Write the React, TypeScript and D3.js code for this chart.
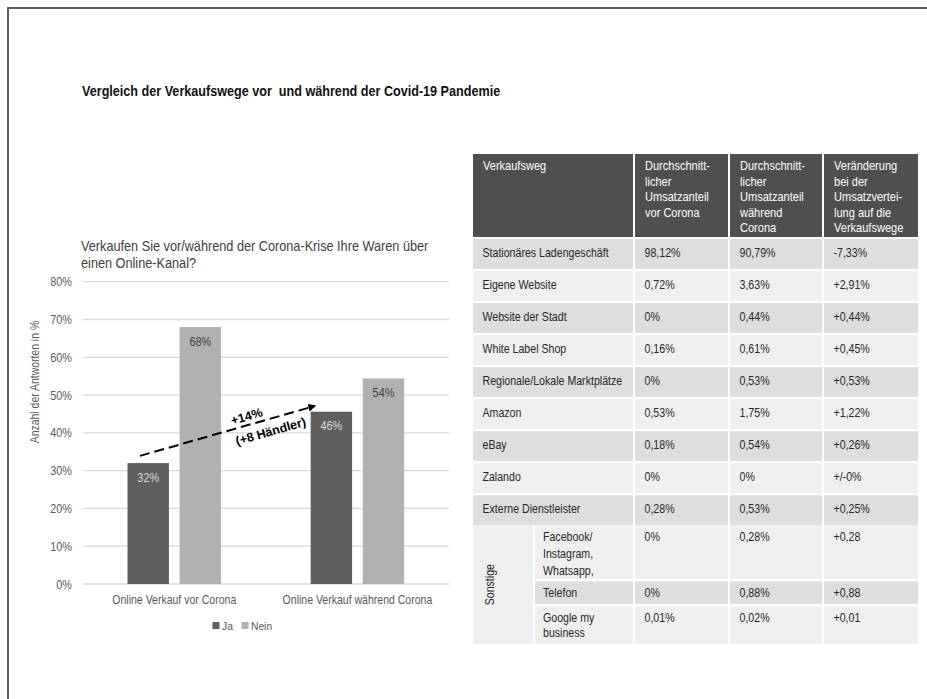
import React from "react";
import * as d3 from "d3";

// ---------- Data ----------
const categories = ["Online Verkauf vor Corona", "Online Verkauf während Corona"];
const seriesNames = ["Ja", "Nein"];
const jaValues = [32, 45.6];
const neinValues = [68, 54.4];
const yTicks = [0, 10, 20, 30, 40, 50, 60, 70, 80];

const tableHeader = [
  "Verkaufsweg",
  "Durchschnitt-\nlicher\nUmsatzanteil\nvor Corona",
  "Durchschnitt-\nlicher\nUmsatzanteil\nwährend\nCorona",
  "Veränderung\nbei der\nUmsatzvertei-\nlung auf die\nVerkaufswege",
];
const channels = [
  "Stationäres Ladengeschäft",
  "Eigene Website",
  "Website der Stadt",
  "White Label Shop",
  "Regionale/Lokale Marktplätze",
  "Amazon",
  "eBay",
  "Zalando",
  "Externe Dienstleister",
];
const shareBefore = ["98,12%", "0,72%", "0%", "0,16%", "0%", "0,53%", "0,18%", "0%", "0,28%"];
const shareDuring = ["90,79%", "3,63%", "0,44%", "0,61%", "0,53%", "1,75%", "0,54%", "0%", "0,53%"];
const shareChange = ["-7,33%", "+2,91%", "+0,44%", "+0,45%", "+0,53%", "+1,22%", "+0,26%", "+/-0%", "+0,25%"];
const otherGroup = "Sonstige";
const otherChannels = ["Facebook/\nInstagram,\nWhatsapp,", "Telefon", "Google my\nbusiness"];
const otherBefore = ["0%", "0%", "0,01%"];
const otherDuring = ["0,28%", "0,88%", "0,02%"];
const otherChange = ["+0,28", "+0,88", "+0,01"];
const otherRowHeights = [54, 23, 38];
const otherLineHeights = [17, 16, 15];

const pageTitle = "Vergleich der Verkaufswege vor  und während der Covid-19 Pandemie";
const chartTitle = ["Verkaufen Sie vor/während der Corona-Krise Ihre Waren über", "einen Online-Kanal?"];
const yAxisTitle = "Anzahl der Antworten in %";
const annotation = ["+14%", "(+8 Händler)"];

// ---------- Styles ----------
const SANS = "'Liberation Sans', Arial, sans-serif";
const SX = 0.87; // horizontal condensing of the narrow font
const COL_JA = "#5f5f5f";
const COL_NEIN = "#b1b1b1";
const TXT = "#595959";

type TProps = {
  x: number; y: number; size: number; fill?: string; anchor?: string; weight?: string;
  rot?: number; sx?: number; children: React.ReactNode;
};
const T = ({ x, y, size, fill = "#262626", anchor = "start", weight = "normal", rot = 0, sx = SX, children }: TProps) => (
  <text
    transform={`translate(${x},${y})${rot ? ` rotate(${rot})` : ""} scale(${sx},1)`}
    textAnchor={anchor}
    fontFamily={SANS}
    fontSize={size}
    fontWeight={weight}
    fill={fill}
    style={{ whiteSpace: "pre" }}
  >
    {children}
  </text>
);

export default function App() {
  const W = 927, H = 699;

  // chart scales
  const x0 = d3.scaleBand<string>().domain(categories).range([82.7, 449]);
  const x1 = d3.scaleBand<string>().domain(seriesNames).range([0, x0.bandwidth()]).paddingInner(0.205).paddingOuter(0.86);
  const y = d3.scaleLinear().domain([0, 80]).range([584, 281.7]);
  const seriesVals: Record<string, number[]> = { Ja: jaValues, Nein: neinValues };
  const seriesCol: Record<string, string> = { Ja: COL_JA, Nein: COL_NEIN };
  const labelCol: Record<string, string> = { Ja: "#dadada", Nein: "#404040" };

  // annotation arrow geometry from scales
  const ax1 = (x0(categories[0]) as number) + (x1("Ja") as number) + x1.bandwidth() * 0.3;
  const ay1 = y(jaValues[0] + 1.9);
  const ax2 = (x0(categories[1]) as number) + (x1("Ja") as number) + 4;
  const ay2 = y(jaValues[1] + 1.5);
  const ang = (Math.atan2(ay2 - ay1, ax2 - ax1) * 180) / Math.PI;
  const mx = (ax1 + ax2) / 2, my = (ay1 + ay2) / 2;

  // table geometry
  const colX = [473, 635, 730, 824];
  const colW = [160, 93, 92, 94];
  const headerTop = 154, headerH = 83;
  const rowY = d3.scaleBand<string>().domain(channels).range([239, 239 + channels.length * 31.8]).paddingInner(2 / 31.8);
  const otherStart = 239 + channels.length * 31.8;
  const otherTops: number[] = [];
  let acc = otherStart;
  otherRowHeights.forEach((h) => { otherTops.push(acc); acc += h + 2; });
  const otherEnd = acc - 2;
  const fillA = "#dedede", fillB = "#efefef";

  return (
    <svg width={W} height={H} style={{ position: "absolute", left: 0, top: 0, background: "#fff" }}>
      <rect x={0} y={0} width={W} height={H} fill="#fff" />
      {/* page frame */}
      <path d={`M8,${H + 2} V8 H${W + 2}`} fill="none" stroke="#5c5c5c" strokeWidth={2} />

      {/* page title */}
      <T x={82} y={96} size={14.5} weight="bold" fill="#111">{pageTitle}</T>

      {/* chart title */}
      {chartTitle.map((t, i) => (
        <T key={i} x={81} y={251 + i * 16.5} size={14.6} fill="#404040">{t}</T>
      ))}

      {/* gridlines + ticks */}
      {yTicks.map((t) => (
        <g key={t}>
          <line x1={82.7} x2={449} y1={y(t)} y2={y(t)} stroke="#d9d9d9" strokeWidth={1.3} />
          <T x={72} y={y(t) + 4.5} anchor="end" size={12.5} fill={TXT}>{t}%</T>
        </g>
      ))}

      {/* y axis title */}
      <T x={38.5} y={382} rot={-90} anchor="middle" size={12} fill={TXT}>{yAxisTitle}</T>

      {/* bars */}
      {categories.map((c, ci) => (
        <g key={c} transform={`translate(${x0(c)},0)`}>
          {seriesNames.map((s) => {
            const v = seriesVals[s][ci];
            const bx = x1(s) as number;
            return (
              <g key={s}>
                <rect x={bx} y={y(v)} width={x1.bandwidth()} height={y(0) - y(v)} fill={seriesCol[s]} />
                <T x={bx + x1.bandwidth() / 2} y={y(v) + 18.5} anchor="middle" size={12.5} fill={labelCol[s]}>
                  {Math.round(v)}%
                </T>
              </g>
            );
          })}
          <T x={x0.bandwidth() / 2} y={604} anchor="middle" size={12.1} fill={TXT}>{c}</T>
        </g>
      ))}

      {/* legend */}
      <g>
        <rect x={212.5} y={622} width={7} height={7} fill={COL_JA} />
        <T x={222} y={630} size={11.8} fill={TXT}>{seriesNames[0]}</T>
        <rect x={241.5} y={622} width={7} height={7} fill={COL_NEIN} />
        <T x={251} y={630} size={11.8} fill={TXT}>{seriesNames[1]}</T>
      </g>

      {/* annotation arrow */}
      <defs>
        <marker id="arrowHead" viewBox="0 0 10 10" refX={8} refY={5} markerWidth={4} markerHeight={4} orient="auto" markerUnits="strokeWidth">
          <path d="M0,0 L10,5 L0,10 z" fill="#000" />
        </marker>
      </defs>
      <line x1={ax1} y1={ay1} x2={ax2} y2={ay2} stroke="#000" strokeWidth={2} strokeDasharray="10,5" markerEnd="url(#arrowHead)" />
      <T x={mx + 20.5} y={my - 15 + 4.5} rot={ang} sx={1} anchor="middle" size={12.5} weight="bold" fill="#000">{annotation[0]}</T>
      <T x={mx + 44.5} y={my + 4.5} rot={ang} sx={1} anchor="middle" size={12.5} weight="bold" fill="#000">{annotation[1]}</T>

      {/* table header */}
      {tableHeader.map((h, i) => (
        <g key={i}>
          <rect x={colX[i]} y={headerTop} width={colW[i]} height={headerH} fill="#4f4f4f" />
          {h.split("\n").map((l, k) => (
            <T key={k} x={colX[i] + 10} y={headerTop + 16 + k * 15.6} size={12.7} fill="#fff">{l}</T>
          ))}
        </g>
      ))}

      {/* main rows */}
      {channels.map((c, i) => {
        const top = rowY(c) as number;
        const fill = i % 2 === 0 ? fillA : fillB;
        const cells = [c, shareBefore[i], shareDuring[i], shareChange[i]];
        return (
          <g key={c}>
            {cells.map((v, j) => (
              <g key={j}>
                <rect x={colX[j]} y={top} width={colW[j]} height={rowY.bandwidth()} fill={fill} />
                <T x={colX[j] + 9.5} y={top + 17.5} size={12.2}>{v}</T>
              </g>
            ))}
          </g>
        );
      })}

      {/* Sonstige group */}
      <rect x={473} y={otherStart} width={60} height={otherEnd - otherStart} fill={fillB} />
      <T x={494} y={(otherStart + otherEnd) / 2} rot={-90} anchor="middle" size={12.2}>{otherGroup}</T>
      {otherChannels.map((c, i) => {
        const top = otherTops[i];
        const h = otherRowHeights[i];
        const fill = i % 2 === 0 ? fillB : fillA;
        const cells = [otherBefore[i], otherDuring[i], otherChange[i]];
        return (
          <g key={c}>
            <rect x={535} y={top} width={98} height={h} fill={fill} />
            {c.split("\n").map((l, k) => (
              <T key={k} x={543} y={top + 15.5 + k * otherLineHeights[i]} size={12.2}>{l}</T>
            ))}
            {cells.map((v, j) => (
              <g key={j}>
                <rect x={colX[j + 1]} y={top} width={colW[j + 1]} height={h} fill={fill} />
                <T x={colX[j + 1] + 9.5} y={top + 15.5} size={12.2}>{v}</T>
              </g>
            ))}
          </g>
        );
      })}
    </svg>
  );
}
